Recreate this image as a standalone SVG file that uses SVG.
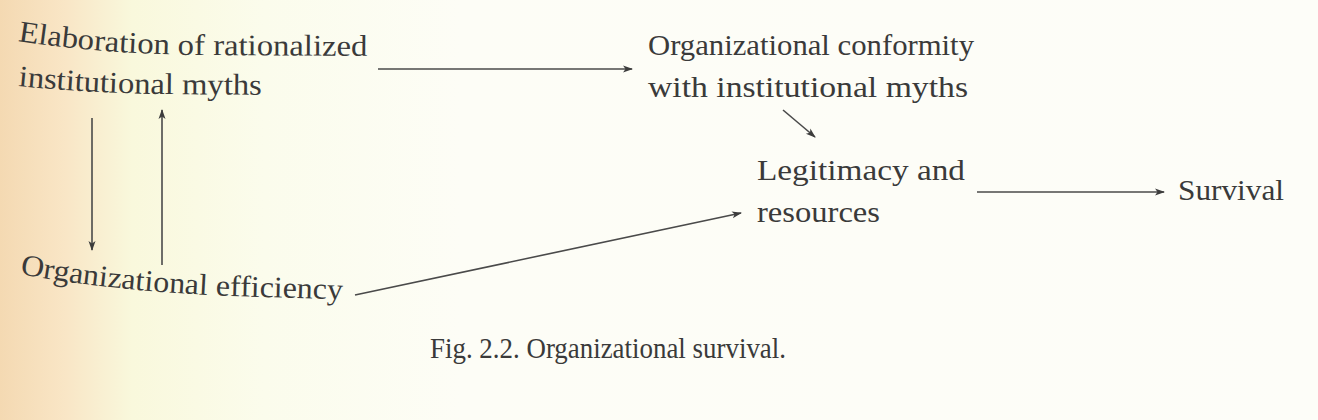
<svg xmlns="http://www.w3.org/2000/svg" width="1318" height="420" viewBox="0 0 1318 420">
<defs>
<linearGradient id="page" x1="0" y1="0" x2="1" y2="0">
<stop offset="0" stop-color="#f4d9b2"/>
<stop offset="0.05" stop-color="#f9e6c6"/>
<stop offset="0.1" stop-color="#f9f8dc"/>
<stop offset="0.2" stop-color="#fbfcec"/>
<stop offset="0.35" stop-color="#fdfdf6"/>
<stop offset="1" stop-color="#fdfdf8"/>
</linearGradient>
<marker id="ah" viewBox="0 0 10 10" refX="9" refY="5" markerWidth="10" markerHeight="10" markerUnits="userSpaceOnUse" orient="auto">
<path d="M0,1.5 L10,5 L0,8.5 L2.5,5 Z" fill="#3c3c3c"/>
</marker>
<path id="p1" d="M18,41 Q100,54 200,55 L380,56"/>
<path id="p2" d="M18,86 Q90,93 160,94 L280,95"/>
<path id="p3" d="M20,274 Q110,291 230,296 L360,300"/>
<style>
.t{font-family:"Liberation Serif","Times New Roman",serif;font-size:30px;fill:#3a3a3a}
.c{fill:none;stroke:#4a4a4a;stroke-width:1.6}
</style>
</defs>
<rect width="1318" height="420" fill="url(#page)"/>
<g id="connectors">
<line class="c" x1="378" y1="69" x2="632" y2="69" marker-end="url(#ah)"/>
<line class="c" x1="783" y1="110" x2="815" y2="137" marker-end="url(#ah)"/>
<line class="c" x1="977" y1="192" x2="1164" y2="192" marker-end="url(#ah)"/>
<line class="c" x1="92" y1="118" x2="92" y2="250" marker-end="url(#ah)"/>
<line class="c" x1="162" y1="265" x2="162" y2="110" marker-end="url(#ah)"/>
<path class="c" d="M355,295 Q555,252 741,213" marker-end="url(#ah)"/>
</g>
<g id="node-elaboration">
<text class="t"><textPath href="#p1" textLength="350" lengthAdjust="spacingAndGlyphs">Elaboration of rationalized</textPath></text>
<text class="t"><textPath href="#p2" textLength="244" lengthAdjust="spacingAndGlyphs">institutional myths</textPath></text>
</g>
<g id="node-conformity">
<text class="t" x="648" y="55" textLength="326" lengthAdjust="spacingAndGlyphs">Organizational conformity</text>
<text class="t" x="648" y="97" textLength="320" lengthAdjust="spacingAndGlyphs">with institutional myths</text>
</g>
<g id="node-legitimacy">
<text class="t" x="757" y="180" textLength="208" lengthAdjust="spacingAndGlyphs">Legitimacy and</text>
<text class="t" x="757" y="222" textLength="123" lengthAdjust="spacingAndGlyphs">resources</text>
</g>
<g id="node-survival">
<text class="t" x="1178" y="200" textLength="106" lengthAdjust="spacingAndGlyphs">Survival</text>
</g>
<g id="node-efficiency">
<text class="t"><textPath href="#p3" textLength="324" lengthAdjust="spacingAndGlyphs">Organizational efficiency</textPath></text>
</g>
<g id="caption">
<text class="t" x="430" y="358" textLength="356" lengthAdjust="spacingAndGlyphs">Fig. 2.2. Organizational survival.</text>
</g>
</svg>
